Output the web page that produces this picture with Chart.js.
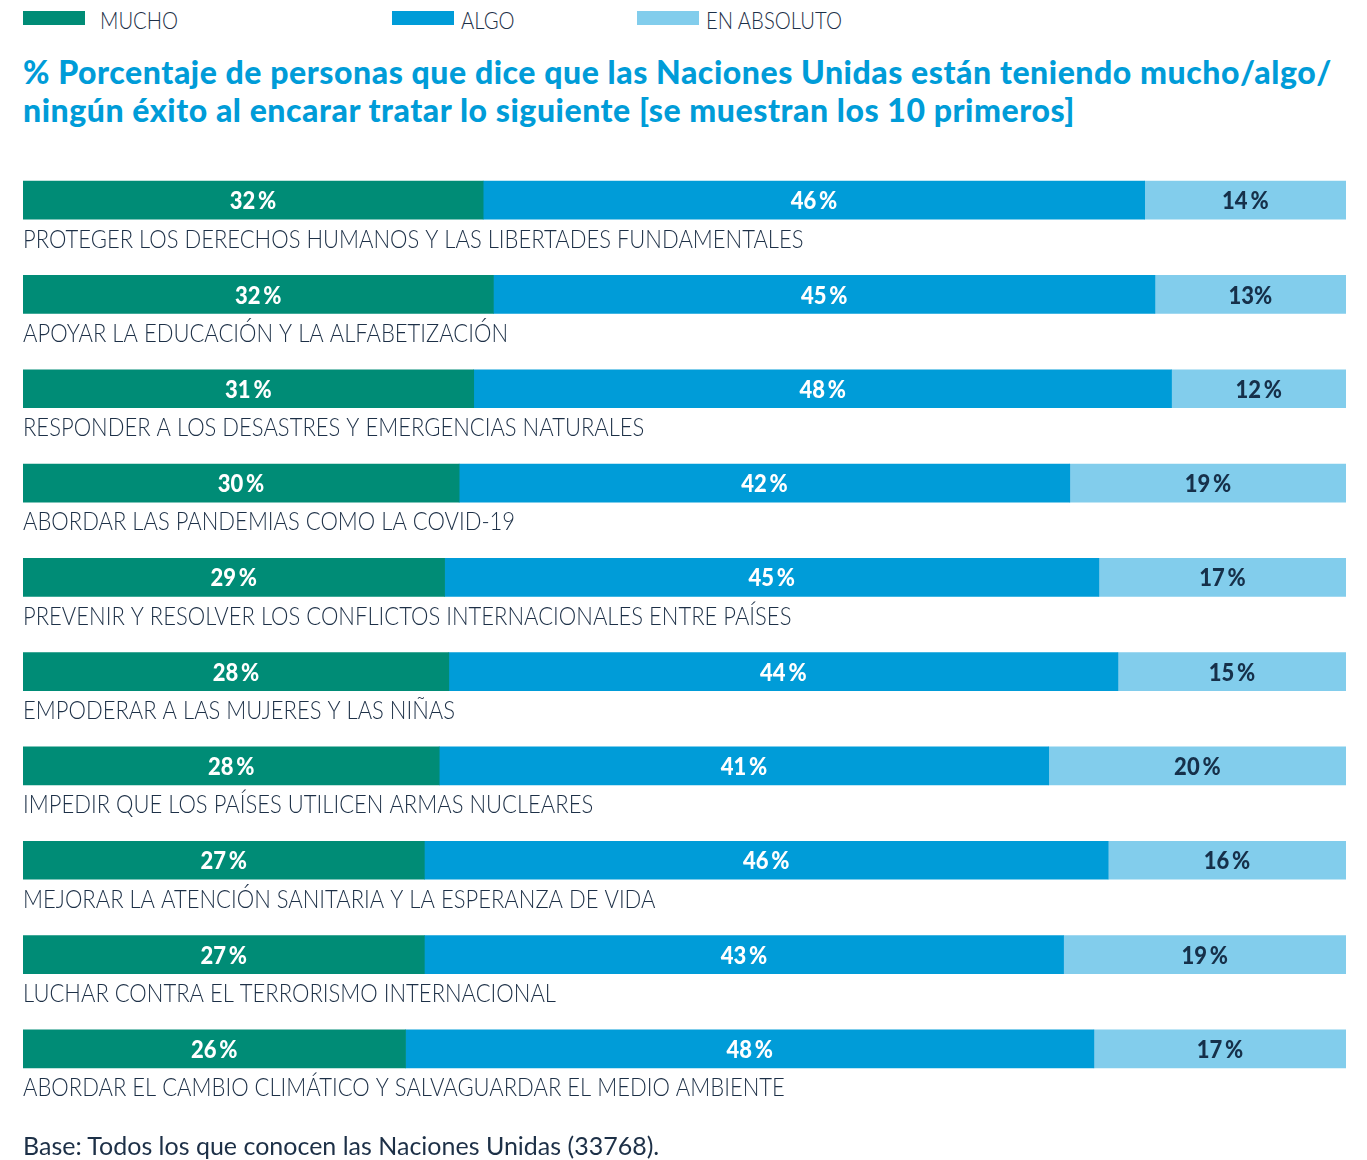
<!DOCTYPE html>
<html lang="es">
<head>
<meta charset="utf-8">
<title>Naciones Unidas - éxito percibido</title>
<script src="https://cdn.jsdelivr.net/npm/chart.js@4/dist/chart.umd.min.js"></script>
<style>
    html, body { margin: 0; padding: 0; background: #ffffff; }
    body { width: 1367px; height: 1160px; position: relative; overflow: hidden; color: #1d3047; }
    .legend-item { position: absolute; top: 6px; font-family: Lato, sans-serif; font-weight: 300; font-size: 23px; line-height: 28px; color: #1d3047; }
    .legend-item span.box { position: absolute; top: 5px; width: 62px; height: 14px; }
    .legend-item span.txt { position: absolute; white-space: nowrap; transform: scaleX(0.88); transform-origin: left center; }
    .title { position: absolute; left: 23px; top: 53px; margin: 0; font-family: Lato, "Open Sans", sans-serif; font-weight: 900; font-size: 32px; line-height: 38px; letter-spacing: 0.55px; color: #009cd8; white-space: nowrap; }
    .footer { position: absolute; left: 23px; top: 1129px; font-family: Lato, "Open Sans", sans-serif; font-size: 25px; line-height: 32px; color: #1d3047; white-space: nowrap; }
    #chartWrap { position: absolute; left: 0; top: 0; width: 1367px; height: 1160px; }
</style>
</head>
<body>

<!-- 범례 -->
<div class="legend-item" style="left:23px"><span class="box" style="left:0;background:#008c76"></span><span class="txt" style="left:77px">MUCHO</span></div>
<div class="legend-item" style="left:392px"><span class="box" style="left:0;background:#009cd8"></span><span class="txt" style="left:69px">ALGO</span></div>
<div class="legend-item" style="left:637px"><span class="box" style="left:0;background:#82cdec"></span><span class="txt" style="left:69px">EN ABSOLUTO</span></div>

<h1 class="title">% Porcentaje de personas que dice que las Naciones Unidas están teniendo mucho/algo/<br>ningún éxito al encarar tratar lo siguiente [se muestran los 10 primeros]</h1>

<div id="chartWrap"><canvas id="unSuccessChart" width="1367" height="1160"></canvas></div>

<div class="footer">Base: Todos los que conocen las Naciones Unidas (33768).</div>

<script>
// 데이터 (출처: 그림에서 읽은 값, 마지막 행은 막대 길이로 소수점 추정)
const categories = [
    'PROTEGER LOS DERECHOS HUMANOS Y LAS LIBERTADES FUNDAMENTALES',
    'APOYAR LA EDUCACIÓN Y LA ALFABETIZACIÓN',
    'RESPONDER A LOS DESASTRES Y EMERGENCIAS NATURALES',
    'ABORDAR LAS PANDEMIAS COMO LA COVID-19',
    'PREVENIR Y RESOLVER LOS CONFLICTOS INTERNACIONALES ENTRE PAÍSES',
    'EMPODERAR A LAS MUJERES Y LAS NIÑAS',
    'IMPEDIR QUE LOS PAÍSES UTILICEN ARMAS NUCLEARES',
    'MEJORAR LA ATENCIÓN SANITARIA Y LA ESPERANZA DE VIDA',
    'LUCHAR CONTRA EL TERRORISMO INTERNACIONAL',
    'ABORDAR EL CAMBIO CLIMÁTICO Y SALVAGUARDAR EL MEDIO AMBIENTE'
];
const mucho    = [32, 32, 31, 30, 29, 28, 28, 27, 27, 26.4];
const algo     = [46, 45, 48, 42, 45, 44, 41, 46, 43, 47.5];
const absoluto = [14, 13, 12, 19, 17, 15, 20, 16, 19, 17.4];
const seriesNames = ['MUCHO', 'ALGO', 'EN ABSOLUTO'];
// 값 라벨 (원본처럼 13%만 붙여 씀, 나머지는 좁은 공백)
const muchoLabels    = ['32\u2009%', '32\u2009%', '31\u2009%', '30\u2009%', '29\u2009%', '28\u2009%', '28\u2009%', '27\u2009%', '27\u2009%', '26\u2009%'];
const algoLabels     = ['46\u2009%', '45\u2009%', '48\u2009%', '42\u2009%', '45\u2009%', '44\u2009%', '41\u2009%', '46\u2009%', '43\u2009%', '48\u2009%'];
const absolutoLabels = ['14\u2009%', '13%', '12\u2009%', '19\u2009%', '17\u2009%', '15\u2009%', '20\u2009%', '16\u2009%', '19\u2009%', '17\u2009%'];

const colors = ['#008c76', '#009cd8', '#82cdec'];
const labelColors = ['#ffffff', '#ffffff', '#16304a'];

// 각 막대를 전체 폭으로 채움 (세 값의 합 기준 비율)
const totals = mucho.map((v, i) => v + algo[i] + absoluto[i]);
const share = arr => arr.map((v, i) => v / totals[i] * 100);

// 가로로 좁힌 글자 (원본의 condensed 폰트 흉내)
function narrowText(ctx, text, x, y, sx) {
    ctx.save();
    ctx.translate(x, y);
    ctx.scale(sx, 1);
    ctx.fillText(text, 0, 0);
    ctx.restore();
}

// 막대 안 값 라벨 + 막대 아래 항목 이름
const barTextPlugin = {
    id: 'barText',
    afterDatasetsDraw(chart) {
        const ctx = chart.ctx;
        const allLabels = [muchoLabels, algoLabels, absolutoLabels];
        ctx.save();
        ctx.textBaseline = 'middle';
        ctx.textAlign = 'center';
        ctx.font = '900 25px Lato, sans-serif';
        chart.data.datasets.forEach((ds, d) => {
            chart.getDatasetMeta(d).data.forEach((bar, i) => {
                ctx.fillStyle = labelColors[d];
                narrowText(ctx, allLabels[d][i], (bar.base + bar.x) / 2, bar.y + 1, 0.88);
            });
        });
        // 항목 이름
        const yScale = chart.scales.y;
        ctx.textAlign = 'left';
        ctx.fillStyle = '#1d3047';
        ctx.font = '300 26px Lato, sans-serif';
        categories.forEach((c, i) => {
            narrowText(ctx, c, chart.chartArea.left, yScale.getPixelForValue(i) + 39, 0.847);
        });
        ctx.restore();
    }
};

function renderUnSuccessChart() {
    const ctx = document.getElementById('unSuccessChart').getContext('2d');
    new Chart(ctx, {
        type: 'bar',
        data: {
            labels: categories,
            datasets: [mucho, algo, absoluto].map((arr, d) => ({
                label: seriesNames[d],
                data: share(arr),
                backgroundColor: colors[d],
                borderWidth: 0,
                barThickness: 38
            }))
        },
        options: {
            indexAxis: 'y',
            responsive: false,
            animation: false,
            layout: {
                padding: { left: 23, right: 21, top: 153, bottom: 64 }
            },
            scales: {
                x: { stacked: true, min: 0, max: 100, display: false },
                y: { stacked: true, display: false }
            },
            plugins: {
                legend: { display: false }, // 범례는 HTML로 그림
                tooltip: { enabled: false }
            }
        },
        plugins: [barTextPlugin]
    });
}

document.addEventListener('DOMContentLoaded', function () {
    renderUnSuccessChart();
});
</script>
</body>
</html>
